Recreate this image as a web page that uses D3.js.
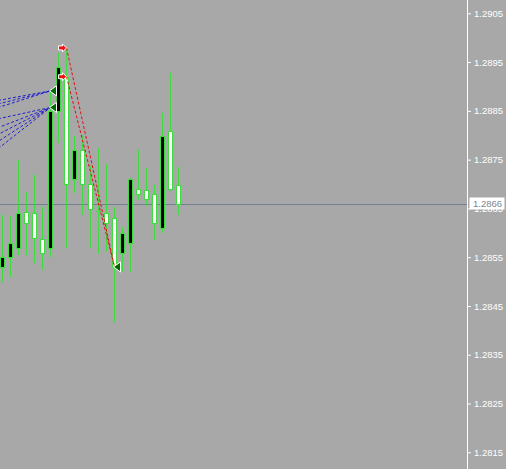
<!DOCTYPE html>
<html><head><meta charset="utf-8">
<script src="https://cdn.jsdelivr.net/npm/d3@7"></script>
<style>html,body{margin:0;padding:0;background:#a8a8a8;overflow:hidden}</style>
</head><body>
<svg id="c" width="506" height="469"></svg>
<script>
// ---- data ----
const candleIndex = d3.range(0, 23);
const opens  = [1.28530,1.28550,1.28569,1.28642,1.28640,1.28588,1.28569,1.28850,1.28919,1.28710,1.28770,1.28700,1.28645,1.28641,1.28630,1.28559,1.28579,1.28690,1.28688,1.28680,1.28610,1.28809,1.28698];
const highs  = [1.28637,1.28634,1.28749,1.28684,1.28719,1.28653,1.28893,1.28969,1.28979,1.28799,1.28800,1.28737,1.28774,1.28741,1.28653,1.28612,1.28712,1.28770,1.28733,1.28698,1.28846,1.28928,1.28735];
const lows   = [1.28499,1.28509,1.28554,1.28554,1.28538,1.28524,1.28550,1.28784,1.28569,1.28682,1.28637,1.28569,1.28557,1.28561,1.28417,1.28520,1.28520,1.28667,1.28655,1.28585,1.28600,1.28686,1.28637];
const closes = [1.28550,1.28579,1.28641,1.28620,1.28589,1.28559,1.28850,1.28940,1.28700,1.28770,1.28700,1.28649,1.28644,1.28620,1.28530,1.28600,1.28710,1.28680,1.28669,1.28620,1.28799,1.28690,1.28660];

// buy trades (opened before visible range), closed at bar 6
const buyOpenIdx    = [-3,-3,-3,-3,-3,-3,-3,-3];
const buyOpenPrice  = [1.28864,1.28854,1.28844,1.28825,1.28800,1.28781,1.28761,1.28741];
const buyCloseIdx   = [6,6,6,6,6,6,6,6];
const buyClosePrice = [1.28891,1.28891,1.28891,1.28857,1.28857,1.28857,1.28857,1.28857];

// sell trades opened at bar 8, closed at bar 14
const sellOpenIdx    = [8,8];
const sellOpenPrice  = [1.28979,1.28920];
const sellCloseIdx   = [14,14];
const sellClosePrice = [1.28530,1.28530];

const tickValues = [1.2815,1.2825,1.2835,1.2845,1.2855,1.2865,1.2875,1.2885,1.2895,1.2905];
const currentPrice = 1.2866;

// ---- drawing ----
const svg = d3.select("#c");
const W = 506, H = 469, axisX = 467.5;
const x = d3.scaleLinear().domain([0, 22]).range([2.5, 178.5]);
const y = d3.scaleLinear().domain([1.2815, 1.2905]).range([452.3, 13.3]);
const green = "#3fdc3f";

svg.append("rect").attr("width", W).attr("height", H).attr("fill", "#a8a8a8");

// current price line
svg.append("line").attr("x1", 0).attr("x2", axisX)
  .attr("y1", Math.round(y(currentPrice)) + 0.5).attr("y2", Math.round(y(currentPrice)) + 0.5)
  .attr("stroke", "#718193").attr("stroke-width", 1);

// trade lines
const buys = buyOpenIdx.map((d, i) => ({x1: d, p1: buyOpenPrice[i], x2: buyCloseIdx[i], p2: buyClosePrice[i]}));
const sells = sellOpenIdx.map((d, i) => ({x1: d, p1: sellOpenPrice[i], x2: sellCloseIdx[i], p2: sellClosePrice[i]}));

svg.append("g").selectAll("line").data(buys).join("line")
  .attr("x1", d => x(d.x1)).attr("y1", d => y(d.p1))
  .attr("x2", d => x(d.x2)).attr("y2", d => y(d.p2))
  .attr("stroke", "#2020cc").attr("stroke-width", 1).attr("stroke-dasharray", "3,2");

// candles
const candles = candleIndex.map(i => ({i, o: opens[i], h: highs[i], l: lows[i], c: closes[i]}));
const g = svg.append("g");
g.selectAll("line.wick").data(candles).join("line").attr("class", "wick")
  .attr("x1", d => x(d.i)).attr("x2", d => x(d.i))
  .attr("y1", d => y(d.h)).attr("y2", d => y(d.l))
  .attr("stroke", green).attr("stroke-width", 1);
g.selectAll("rect.body").data(candles).join("rect").attr("class", "body")
  .attr("x", d => x(d.i) - 2)
  .attr("y", d => Math.round(y(Math.max(d.o, d.c))) + 0.5)
  .attr("width", 4)
  .attr("height", d => Math.max(0.01, Math.round(Math.abs(y(d.o) - y(d.c)))))
  .attr("fill", d => d.c >= d.o ? "#000000" : "#ffffff")
  .attr("stroke", green).attr("stroke-width", 1);

svg.append("g").selectAll("line").data(sells).join("line")
  .attr("x1", d => x(d.x1)).attr("y1", d => y(d.p1))
  .attr("x2", d => x(d.x2)).attr("y2", d => y(d.p2))
  .attr("stroke", "#e01010").attr("stroke-width", 1).attr("stroke-dasharray", "3,2");

// close markers (left-pointing green triangles)
const closeMarks = [];
const seen = new Set();
buys.concat(sells).forEach(d => { const k = d.x2 + "_" + d.p2; if (!seen.has(k)) { seen.add(k); closeMarks.push({i: d.x2, p: d.p2}); } });
svg.append("g").selectAll("path").data(closeMarks).join("path")
  .attr("d", d => { const cx = x(d.i), cy = y(d.p); return `M${cx-1},${cy} L${cx+6},${cy-5} L${cx+6},${cy+5} Z`; })
  .attr("fill", "#006a00").attr("stroke", "#ffffff").attr("stroke-width", 1);

// sell open markers (right-pointing red arrows)
svg.append("g").selectAll("path").data(sells).join("path")
  .attr("d", d => { const cx = x(d.x1), cy = y(d.p1); return `M${cx},${cy} L${cx-4},${cy-4} L${cx-4},${cy-2} L${cx-8},${cy-2} L${cx-8},${cy+2} L${cx-4},${cy+2} L${cx-4},${cy+4} Z`; })
  .attr("fill", "#ee1111").attr("stroke", "#ffffff").attr("stroke-width", 1);

// right axis
svg.append("line").attr("x1", axisX).attr("x2", axisX).attr("y1", 0).attr("y2", H)
  .attr("stroke", "#ffffff").attr("stroke-width", 1);
const axis = d3.axisRight(y).tickValues(tickValues).tickSize(3).tickPadding(3).tickFormat(d3.format(".4f"));
const ag = svg.append("g").attr("transform", `translate(${axisX + 0.5},0)`).call(axis);
ag.select(".domain").remove();
ag.selectAll(".tick line").attr("stroke", "#ffffff");
ag.selectAll(".tick text").attr("fill", "#ffffff")
  .style("font-family", "'Liberation Sans', Arial, sans-serif").style("font-size", "9.5px");

// current price label
const cy = Math.round(y(currentPrice));
svg.append("rect").attr("x", 469.5).attr("y", cy - 6.5).attr("width", 35).attr("height", 12)
  .attr("fill", "#ffffff");
svg.append("text").attr("x", 473).attr("y", cy).attr("dy", "0.34em")
  .attr("fill", "#7a8490").style("font-family", "'Liberation Sans', Arial, sans-serif").style("font-size", "9.5px")
  .text(d3.format(".4f")(currentPrice));
</script>
</body></html>
